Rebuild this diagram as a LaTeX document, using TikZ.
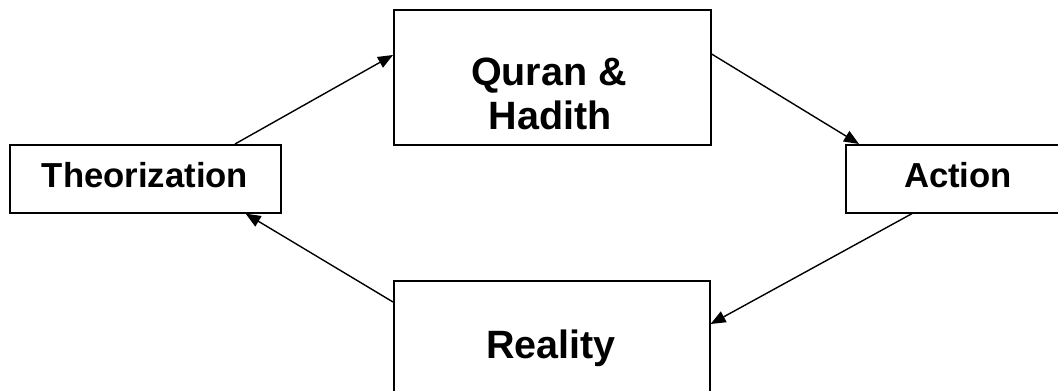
\documentclass[tikz,border=0pt]{standalone}
\usepackage{fontspec}
\setmainfont{Liberation Sans}
\usetikzlibrary{arrows.meta}
\tikzset{
  box/.style={draw=black, line width=1.6pt, rectangle, inner sep=0pt, anchor=north west},
  lbl/.style={font=\bfseries\fontsize{34.7}{44}\selectfont, anchor=base, inner sep=0pt},
  biglbl/.style={font=\bfseries\fontsize{39.5}{44}\selectfont, anchor=base, inner sep=0pt},
  conn/.style={line width=1.4pt, -{Triangle[length=15pt,width=12pt]}}
}
\begin{document}
\begin{tikzpicture}[x=1pt,y=-1pt]
\useasboundingbox (0,0) rectangle (1058,391);
\clip (0,0) rectangle (1058,391);
\node[box, minimum width=271pt, minimum height=68pt] (t) at (9,144) {};
\node[box, minimum width=317pt, minimum height=135pt] (q) at (393,9) {};
\node[box, minimum width=240pt, minimum height=68pt] (a) at (845,144) {};
\node[box, minimum width=316pt, minimum height=150pt] (r) at (393,280) {};
\node[lbl] (tl) at (145,187) {Theorization};
\node[biglbl] (ql1) at (549,85) {Quran \&};
\node[biglbl] (ql2) at (550,129) {Hadith};
\node[lbl] (al) at (958,187) {Action};
\node[biglbl] (rl) at (551,358) {Reality};
\draw[conn] ([xshift=226pt]t.north west) -- ([yshift=-46pt]q.north west);
\draw[conn] ([yshift=-45pt]q.north east) -- ([xshift=14pt]a.north west);
\draw[conn] ([xshift=67pt]a.south west) -- ([yshift=-44pt]r.north east);
\draw[conn] ([yshift=-22pt]r.north west) -- ([xshift=-36pt]t.south east);
\end{tikzpicture}
\end{document}
